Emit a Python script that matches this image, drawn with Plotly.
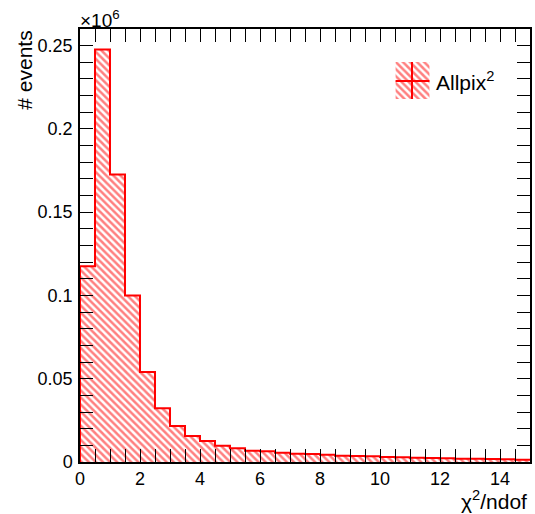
import plotly.graph_objects as go

bin_low = [0.0, 0.5, 1.0, 1.5, 2.0, 2.5, 3.0, 3.5, 4.0, 4.5, 5.0, 5.5, 6.0, 6.5, 7.0,
           7.5, 8.0, 8.5, 9.0, 9.5, 10.0, 10.5, 11.0, 11.5, 12.0, 12.5, 13.0, 13.5, 14.0, 14.5]
bin_width = 0.5
counts = [117500, 247500, 172500, 100000, 54000, 32200, 21600, 15600, 12600, 9800,
          8200, 6800, 6400, 5600, 5000, 4800, 4400, 3800, 3600, 3400,
          3000, 2800, 2600, 2400, 2200, 2000, 2000, 1800, 1600, 1400]
scale = 1e6
series_name = "Allpix<sup>2</sup>"
x_title = "χ<sup>2</sup>/ndof"
y_title = "# events"

RED = "#ff0000"
FONT = "Liberation Sans, Arial, Helvetica, sans-serif"
FS_TICK = 18
FS_TITLE = 21

y_vals = [c / scale for c in counts]
centers = [b + bin_width / 2 for b in bin_low]
ymax = max(y_vals) * 1.05
xmax = bin_low[-1] + bin_width

hatch = dict(shape="\\", fgcolor=RED, bgcolor="rgba(0,0,0,0)", size=5, solidity=0.5, fillmode="overlay")

fig = go.Figure()

# hatched fill
fig.add_trace(go.Bar(
    x=centers, y=y_vals, width=bin_width,
    marker=dict(color="rgba(0,0,0,0)", line=dict(width=0), pattern=hatch),
    showlegend=False, hoverinfo="skip"))

# step outline
step_x = [bin_low[0]] + bin_low + [xmax]
step_y = [0] + y_vals + [y_vals[-1]]
fig.add_trace(go.Scatter(x=step_x, y=step_y, mode="lines", line=dict(color=RED, width=2, shape="hv"),
                         showlegend=False, hoverinfo="skip"))

# legend (drawn on a pixel-mapped overlay axis)
sw_x0, sw_x1, sw_y0, sw_y1 = 397, 431, 62, 99
fig.add_trace(go.Scatter(x=[sw_x0, sw_x1, sw_x1, sw_x0, sw_x0], y=[sw_y0, sw_y0, sw_y1, sw_y1, sw_y0],
                         xaxis="x2", yaxis="y2", mode="lines", fill="toself", line=dict(width=0),
                         fillcolor="rgba(0,0,0,0)", fillpattern=hatch,
                         showlegend=False, hoverinfo="skip"))
fig.add_trace(go.Scatter(x=[sw_x0, sw_x1, None, 413.5, 413.5], y=[81, 81, None, sw_y0, sw_y1],
                         xaxis="x2", yaxis="y2", mode="lines", line=dict(color=RED, width=2),
                         showlegend=False, hoverinfo="skip"))

common = dict(showgrid=False, zeroline=False, ticks="inside", tickcolor="black", tickwidth=1, ticklen=13)
tickfont = dict(family=FONT, size=FS_TICK, color="black")
xminor = dict(dtick=0.5, ticks="inside", ticklen=6, tickcolor="black", tickwidth=1)
yminor = dict(dtick=0.01, ticks="inside", ticklen=7, tickcolor="black", tickwidth=1)

fig.update_layout(
    width=535, height=514,
    margin=dict(l=80, r=3, t=29, b=52),
    paper_bgcolor="white", plot_bgcolor="white",
    bargap=0,
    font=dict(family=FONT, size=FS_TICK, color="black"),
    xaxis=dict(range=[0, xmax], dtick=2, tick0=0, minor=xminor, tickfont=tickfont,
               showline=True, linecolor="black", linewidth=1.5, mirror="allticks", **common),
    yaxis=dict(range=[0, ymax], dtick=0.05, tick0=0, tickformat="~g", minor=yminor, tickfont=tickfont,
               ticklabelstandoff=2,
               showline=True, linecolor="black", linewidth=1.5, mirror="allticks", **common),
    xaxis3=dict(overlaying="x", side="top", anchor="y", range=[0, xmax], dtick=2, tick0=0,
                minor=xminor, showticklabels=False, showline=False, **common),
    yaxis3=dict(overlaying="y", side="right", anchor="x", range=[0, ymax], dtick=0.05, tick0=0,
                minor=yminor, showticklabels=False, showline=False, **common),
    xaxis2=dict(overlaying="x", range=[80, 532], visible=False, anchor="y2"),
    yaxis2=dict(overlaying="y", range=[462, 29], visible=False, anchor="x2"),
    annotations=[
        dict(text="×10<sup>6</sup>", xref="paper", yref="paper", x=0, y=1, xanchor="left",
             yanchor="bottom", showarrow=False, font=dict(family=FONT, size=19), yshift=-4, xshift=-2),
        dict(text=y_title, xref="paper", yref="paper", x=-0.124, y=1, xanchor="center",
             yanchor="top", textangle=-90, showarrow=False, font=dict(family=FONT, size=FS_TITLE)),
        dict(text=x_title, xref="paper", yref="paper", x=1, y=-0.088, xanchor="right",
             yanchor="middle", showarrow=False, font=dict(family=FONT, size=FS_TITLE), xshift=-1),
        dict(text=series_name, xref="x2", yref="y2", x=436, y=81, xanchor="left",
             yanchor="middle", showarrow=False, font=dict(family=FONT, size=FS_TITLE)),
    ],
)

# invisible traces so the tick-only overlay axes are drawn
fig.add_trace(go.Scatter(x=[None], y=[None], xaxis="x3", yaxis="y", showlegend=False, hoverinfo="skip"))
fig.add_trace(go.Scatter(x=[None], y=[None], xaxis="x", yaxis="y3", showlegend=False, hoverinfo="skip"))

fig.write_html("out.html", config={"displayModeBar": False},
               post_script="document.body.style.margin='0';")
